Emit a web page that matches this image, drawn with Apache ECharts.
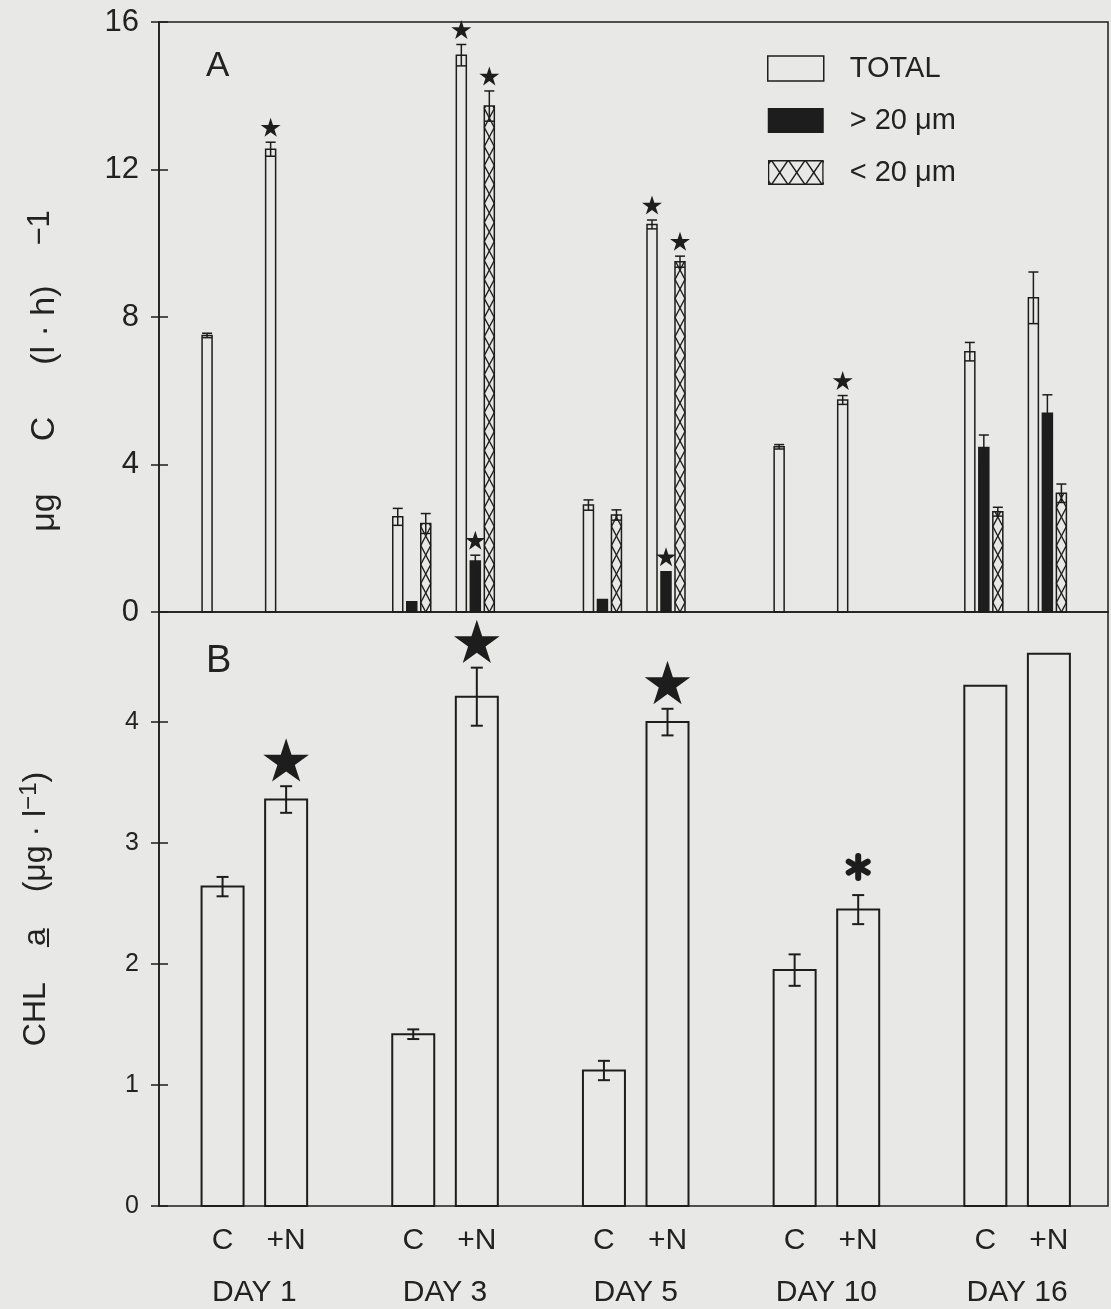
<!DOCTYPE html>
<html>
<head>
<meta charset="utf-8">
<script src="https://cdn.jsdelivr.net/npm/echarts@6/dist/echarts.min.js"></script>
<style>
html,body{margin:0;padding:0;background:#e8e8e6;}
#chart{width:1111px;height:1309px;}
</style>
</head>
<body>
<div id="chart"></div>
<script>
// ---------------- DATA ----------------
const days = ['DAY 1', 'DAY 3', 'DAY 5', 'DAY 10', 'DAY 16'];
const treatments = ['C', '+N'];
// order of the 10 entries: DAY1 C, DAY1 +N, DAY3 C, DAY3 +N, ...
// Panel A: carbon uptake, µg C (l·h)^-1
const totalA    = [7.50, 12.55, 2.58, 15.10, 2.90, 10.51, 4.48, 5.75, 7.06, 8.52];
const totalAErr = [0.06, 0.19, 0.23, 0.29, 0.14, 0.12, 0.06, 0.12, 0.25, 0.70];
const totalASig = [0, 1, 0, 1, 0, 1, 0, 1, 0, 0];
const bigA      = [null, null, 0.28, 1.38, 0.34, 1.09, null, null, 4.46, 5.39];
const bigAErr   = [null, null, 0, 0.16, 0, 0, null, null, 0.34, 0.50];
const bigASig   = [0, 0, 0, 1, 0, 1, 0, 0, 0, 0];
const smallA    = [null, null, 2.40, 13.72, 2.63, 9.50, null, null, 2.72, 3.22];
const smallAErr = [null, null, 0.27, 0.41, 0.14, 0.15, null, null, 0.12, 0.25];
const smallASig = [0, 0, 0, 1, 0, 1, 0, 0, 0, 0];
// Panel B: chlorophyll a, µg l^-1
const chlB      = [2.64, 3.36, 1.42, 4.21, 1.12, 4.00, 1.95, 2.45, 4.30, 4.565];
const chlBErr   = [0.08, 0.11, 0.04, 0.24, 0.08, 0.11, 0.13, 0.12, 0, 0];
const chlBMark  = ['', 'star', '', 'star', '', 'star', '', 'asterisk', '', ''];
// tick labels
const yTicksA = [0, 4, 8, 12, 16];
const yTicksB = [0, 1, 2, 3, 4];
const seriesNames = ['TOTAL', '> 20 μm', '< 20 μm'];

// ---------------- HELPERS ----------------
const INK = '#1d1d1d';
const TXT = '#222';
const FONT = 'Liberation Sans';
const slotOf = i => Math.floor(i / 2) * 3 + 1 + (i % 2);
const X_MAX = 14.93;
const A_OFF = [-15.5, -1.5, 12.5];
const A_W = 10;
const B_W = 42;

function rowsA(vals, errs, kind) {
  const out = [];
  vals.forEach((v, i) => { if (v != null) out.push([slotOf(i), v, errs[i] || 0, kind]); });
  return out;
}
function clipSeg(xa, ya, xb, yb, ymin, ymax) {
  let t0 = 0, t1 = 1;
  const dy = yb - ya;
  if (dy === 0) return (ya < ymin || ya > ymax) ? null : [xa, ya, xb, yb];
  const ta = (ymin - ya) / dy, tb = (ymax - ya) / dy;
  t0 = Math.max(t0, Math.min(ta, tb));
  t1 = Math.min(t1, Math.max(ta, tb));
  if (t0 >= t1) return null;
  return [xa + (xb - xa) * t0, ya + dy * t0, xa + (xb - xa) * t1, ya + dy * t1];
}
function starPoints(cx, cy, R) {
  const pts = [], r = R * 0.382;
  for (let k = 0; k < 10; k++) {
    const rad = (k % 2 === 0) ? R : r;
    const ang = -Math.PI / 2 + k * Math.PI / 5;
    pts.push([cx + rad * Math.cos(ang), cy + rad * Math.sin(ang)]);
  }
  return pts;
}

function renderA(params, api) {
  const x = api.value(0), v = api.value(1), e = api.value(2), kind = api.value(3);
  const p0 = api.coord([x, 0]), p1 = api.coord([x, v]);
  const cx = p0[0] + A_OFF[kind];
  const x0 = cx - A_W / 2, x1 = cx + A_W / 2;
  const yb = p0[1], yt = p1[1];
  const ch = [];
  ch.push({ type: 'rect', shape: { x: x0, y: yt, width: A_W, height: yb - yt },
    style: { fill: kind === 1 ? INK : 'none', stroke: INK, lineWidth: 1.5 } });
  if (kind === 2) {
    const h = 19;
    for (let j = 0; yb - (j - 0.5) * h > yt; j++) {
      const ya = yb - (j - 0.5) * h, yc = yb - (j + 0.5) * h;
      [[x0, ya, x1, yc], [x1, ya, x0, yc]].forEach(s => {
        const c = clipSeg(s[0], s[1], s[2], s[3], yt, yb);
        if (c) ch.push({ type: 'line', shape: { x1: c[0], y1: c[1], x2: c[2], y2: c[3] },
          style: { stroke: INK, lineWidth: 1.4 } });
      });
    }
  }
  if (e > 0) {
    const hi = api.coord([x, v + e])[1], lo = api.coord([x, v - e])[1];
    ch.push({ type: 'line', shape: { x1: cx, y1: lo, x2: cx, y2: hi }, style: { stroke: INK, lineWidth: 1.5 } });
    ch.push({ type: 'line', shape: { x1: x0, y1: hi, x2: x1, y2: hi }, style: { stroke: INK, lineWidth: 1.5 } });
    ch.push({ type: 'line', shape: { x1: x0, y1: lo, x2: x1, y2: lo }, style: { stroke: INK, lineWidth: 1.5 } });
  }
  return { type: 'group', children: ch };
}

function renderStarA(params, api) {
  const x = api.value(0), top = api.value(1), kind = api.value(2);
  const p = api.coord([x, top]);
  return { type: 'polygon', shape: { points: starPoints(p[0] + A_OFF[kind], p[1] - 14, 10.5) },
    style: { fill: INK } };
}

function renderB(params, api) {
  const x = api.value(0), v = api.value(1), e = api.value(2), mark = api.value(3);
  const p0 = api.coord([x, 0]), p1 = api.coord([x, v]);
  const cx = p0[0];
  const ch = [];
  ch.push({ type: 'rect', shape: { x: cx - B_W / 2, y: p1[1], width: B_W, height: p0[1] - p1[1] },
    style: { fill: 'none', stroke: INK, lineWidth: 2 } });
  let topY = p1[1];
  if (e > 0) {
    const hi = api.coord([x, v + e])[1], lo = api.coord([x, v - e])[1];
    topY = hi;
    ch.push({ type: 'line', shape: { x1: cx, y1: lo, x2: cx, y2: hi }, style: { stroke: INK, lineWidth: 2 } });
    ch.push({ type: 'line', shape: { x1: cx - 6, y1: hi, x2: cx + 6, y2: hi }, style: { stroke: INK, lineWidth: 2 } });
    ch.push({ type: 'line', shape: { x1: cx - 6, y1: lo, x2: cx + 6, y2: lo }, style: { stroke: INK, lineWidth: 2 } });
  }
  if (mark === 1) {
    ch.push({ type: 'polygon', shape: { points: starPoints(cx, topY - 24, 24) }, style: { fill: INK } });
  } else if (mark === 2) {
    const cy = topY - 28, L = 11;
    for (let k = 0; k < 3; k++) {
      const a = Math.PI / 2 + k * Math.PI / 3;
      ch.push({ type: 'line', shape: { x1: cx - L * Math.cos(a), y1: cy - L * Math.sin(a), x2: cx + L * Math.cos(a), y2: cy + L * Math.sin(a) },
        style: { stroke: INK, lineWidth: 6, lineCap: 'round' } });
    }
  }
  return { type: 'group', children: ch };
}

// ---------------- BUILD ----------------
const dataTotal = rowsA(totalA, totalAErr, 0);
const dataBig = rowsA(bigA, bigAErr, 1);
const dataSmall = rowsA(smallA, smallAErr, 2);
const dataStarsA = [];
[[totalA, totalAErr, totalASig, 0], [bigA, bigAErr, bigASig, 1], [smallA, smallAErr, smallASig, 2]].forEach(([v, e, s, k]) => {
  v.forEach((val, i) => { if (val != null && s[i]) dataStarsA.push([slotOf(i), val + (e[i] || 0), k]); });
});
const dataB = chlB.map((v, i) => [slotOf(i), v, chlBErr[i], chlBMark[i] === 'star' ? 1 : (chlBMark[i] === 'asterisk' ? 2 : 0)]);

let lines = '';
for (let c = -5; c <= 63; c += 17) {
  lines += `<line x1="${c - 8.5}" y1="0" x2="${c + 8.5}" y2="25"/><line x1="${c + 8.5}" y1="0" x2="${c - 8.5}" y2="25"/>`;
}
const hatchSvg = `<svg xmlns="http://www.w3.org/2000/svg" width="56" height="25" viewBox="0 0 56 25"><g stroke="${INK}" stroke-width="1.4" fill="none">${lines}</g><rect x="0.75" y="0.75" width="54.5" height="23.5" fill="none" stroke="${INK}" stroke-width="1.5"/></svg>`;
const hatchIcon = 'image://data:image/svg+xml;charset=utf-8,' + encodeURIComponent(hatchSvg);

const nameRichA = {
  n: { fontSize: 34, fontFamily: FONT, color: TXT, lineHeight: 40 },
  g: { fontSize: 34, fontFamily: FONT, color: TXT, lineHeight: 40, padding: [0, 0, 0, 52] },
  s: { fontSize: 31, fontFamily: FONT, color: TXT, lineHeight: 40, verticalAlign: 'top', padding: [0, 108, 0, 40] }
};
const nameRichB = {
  n: { fontSize: 32, fontFamily: FONT, color: TXT, lineHeight: 38 },
  g: { fontSize: 32, fontFamily: FONT, color: TXT, lineHeight: 38, padding: [0, 0, 0, 36] },
  s: { fontSize: 24, fontFamily: FONT, color: TXT, lineHeight: 38, verticalAlign: 'top' }
};

const chart = echarts.init(document.getElementById('chart'), null, { renderer: 'canvas' });
const option = {
  backgroundColor: '#e8e8e6',
  animation: false,
  title: [
    { text: 'A', left: 201, top: 44, textStyle: { fontSize: 35, fontWeight: 'normal', fontFamily: FONT, color: TXT } },
    { text: 'B', left: 201, top: 638, textStyle: { fontSize: 38, fontWeight: 'normal', fontFamily: FONT, color: TXT } }
  ],
  legend: {
    orient: 'vertical', left: 767, top: 54, padding: 0,
    itemWidth: 56, itemHeight: 25, itemGap: 23,
    selectedMode: false,
    textStyle: { fontSize: 29, fontFamily: FONT, color: TXT, lineHeight: 25, padding: [0, 0, 0, 21] },
    data: [
      { name: seriesNames[0], icon: 'rect', itemStyle: { color: 'rgba(0,0,0,0)', borderColor: INK, borderWidth: 1.5 } },
      { name: seriesNames[1], icon: 'rect', itemStyle: { color: INK, borderWidth: 0 } },
      { name: seriesNames[2], icon: hatchIcon }
    ]
  },
  grid: [
    { left: 159, right: 3, top: 22, height: 590, show: true, borderColor: INK, borderWidth: 1.5, backgroundColor: 'transparent' },
    { left: 159, right: 3, top: 612, height: 594, show: true, borderColor: INK, borderWidth: 1.5, backgroundColor: 'transparent' }
  ],
  xAxis: [
    { type: 'value', gridIndex: 0, min: 0, max: X_MAX, show: false },
    { type: 'value', gridIndex: 1, position: 'bottom', min: 0, max: X_MAX, interval: 1,
      axisLine: { show: false }, axisTick: { show: false }, splitLine: { show: false },
      axisLabel: { margin: 20, fontSize: 30, fontFamily: FONT, color: TXT,
        formatter: v => { const r = Math.round(v); if (Math.abs(v - r) > 1e-6) return ''; const m = r % 3; return m === 0 ? '' : treatments[m - 1]; } } },
    { type: 'value', gridIndex: 1, position: 'bottom', offset: 0, min: 0, max: X_MAX, interval: 0.5,
      axisLine: { show: false }, axisTick: { show: false }, splitLine: { show: false },
      axisLabel: { margin: 72, fontSize: 30, fontFamily: FONT, color: TXT,
        formatter: v => { const m = v % 3; if (Math.abs(m - 1.5) > 1e-6) return ''; return days[Math.floor(v / 3)]; } } }
  ],
  yAxis: [
    { type: 'value', gridIndex: 0, position: 'left', min: yTicksA[0], max: yTicksA[yTicksA.length - 1], interval: yTicksA[1] - yTicksA[0],
      axisLine: { show: true, lineStyle: { color: INK, width: 1.5 } },
      axisTick: { show: true, inside: false, length: 8, lineStyle: { color: INK, width: 1.5 } },
      splitLine: { show: false },
      axisLabel: { margin: 20, fontSize: 31, fontFamily: FONT, color: TXT },
      name: '{n|μg}{g|C}{g|(l · h)}{s|−1}', nameLocation: 'middle', nameRotate: 90, nameGap: 94,
      nameTextStyle: { rich: nameRichA } },
    { type: 'value', gridIndex: 0, position: 'left', min: yTicksA[0], max: yTicksA[yTicksA.length - 1], interval: yTicksA[1] - yTicksA[0],
      axisLine: { show: false }, axisLabel: { show: false }, splitLine: { show: false },
      axisTick: { show: true, inside: true, length: 9, lineStyle: { color: INK, width: 1.5 } } },
    { type: 'value', gridIndex: 1, position: 'left', min: 0, max: 4.91, interval: 1,
      axisLine: { show: true, lineStyle: { color: INK, width: 1.5 } },
      axisTick: { show: true, inside: false, length: 8, lineStyle: { color: INK, width: 1.5 } },
      splitLine: { show: false },
      axisLabel: { margin: 20, fontSize: 25, fontFamily: FONT, color: TXT,
        formatter: v => yTicksB.indexOf(v) >= 0 ? String(v) : '' },
      name: '{n|CHL}{g|a̲}{g|(μg · l}{s|−1}{n|)}', nameLocation: 'middle', nameRotate: 90, nameGap: 104,
      nameTextStyle: { rich: nameRichB } },
    { type: 'value', gridIndex: 1, position: 'left', min: 0, max: 4.91, interval: 1,
      axisLine: { show: false }, axisLabel: { show: false }, splitLine: { show: false },
      axisTick: { show: true, inside: true, length: 9, lineStyle: { color: INK, width: 1.5 } } }
  ],
  series: [
    { type: 'custom', name: seriesNames[0], xAxisIndex: 0, yAxisIndex: 0, renderItem: renderA, data: dataTotal, encode: { x: 0, y: 1 }, silent: true },
    { type: 'custom', name: seriesNames[1], xAxisIndex: 0, yAxisIndex: 0, renderItem: renderA, data: dataBig, encode: { x: 0, y: 1 }, silent: true },
    { type: 'custom', name: seriesNames[2], xAxisIndex: 0, yAxisIndex: 0, renderItem: renderA, data: dataSmall, encode: { x: 0, y: 1 }, silent: true },
    { type: 'custom', name: 'signif A', xAxisIndex: 0, yAxisIndex: 0, renderItem: renderStarA, data: dataStarsA, encode: { x: 0, y: 1 }, silent: true },
    { type: 'custom', name: 'CHL a', xAxisIndex: 1, yAxisIndex: 2, renderItem: renderB, data: dataB, encode: { x: 0, y: 1 }, silent: true }
  ]
};
chart.setOption(option);
</script>
</body>
</html>
